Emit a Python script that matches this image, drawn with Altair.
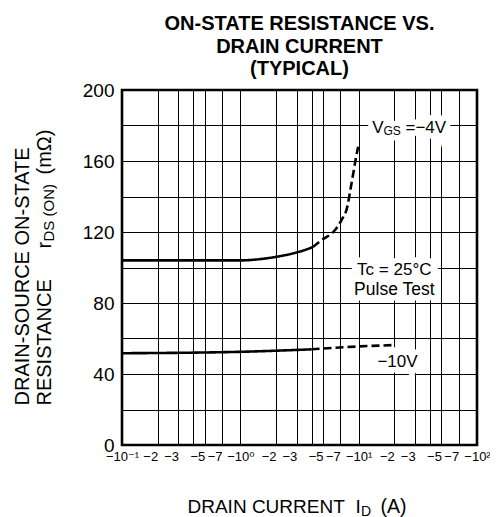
import altair as alt
import pandas as pd

FONT = "Liberation Sans, Arial, DejaVu Sans"

# ---- data ----
id_vgs4_solid = [0.1, 1.0, 1.5, 2.0, 3.2, 4.1]
r_vgs4_solid = [104, 104, 104.8, 106, 109, 111.5]
id_vgs4_dash = [4.1, 5.0, 6.1, 7.2, 8.0, 8.5, 9.0, 9.5, 9.9]
r_vgs4_dash = [111.5, 116, 120, 127, 134, 143.5, 153, 162, 168]
id_vgs10_solid = [0.1, 1.0, 4.0]
r_vgs10_solid = [51.7, 52.5, 53.9]
id_vgs10_dash = [4.0, 8.0, 20.0]
r_vgs10_dash = [53.9, 55.2, 56.3]

x_grid = [0.1, 0.2, 0.3, 0.4, 0.5, 0.7, 1, 2, 3, 4, 5, 7, 10, 20, 30, 40, 50, 70, 100]
x_labels = ["−10⁻¹", "−2", "−3", "", "−5", "−7", "−10⁰", "−2", "−3", "", "−5", "−7",
            "−10¹", "−2", "−3", "", "−5", "−7", "−10²"]
x_decades = [0.1, 1, 10, 100]
y_grid = list(range(0, 201, 20))

rows = []
def add(xs, ys, seg, style):
    for a, b in zip(xs, ys):
        rows.append({"id": a, "r": b, "seg": seg, "style": style})
add(id_vgs4_solid, r_vgs4_solid, "v4s", "solid")
add(id_vgs4_dash, r_vgs4_dash, "v4d", "dashed")
add(id_vgs10_solid, r_vgs10_solid, "v10s", "solid")
add(id_vgs10_dash, r_vgs10_dash, "v10d", "dashed")
df = pd.DataFrame(rows)

# label expression
parts = []
for v, l in zip(x_grid, x_labels):
    parts.append(f"abs(datum.value - {v}) < {v}*1e-6 ? '{l}'")
label_expr = " : ".join(parts) + " : ''"
decade_test = " || ".join(f"abs(datum.value - {v}) < {v}*1e-6" for v in x_decades)

xs = alt.Scale(type="log", domain=[0.1, 100])
ys = alt.Scale(domain=[0, 200], nice=False)

def blank_axis(title, tx, ty, size, orient, angle=0):
    return alt.Axis(title=title, orient=orient, labels=False, ticks=False, domain=False,
                    grid=False, titleX=tx, titleY=ty, titleFontSize=size, titleFont=FONT,
                    titleFontWeight="normal", titleAlign="left", titleBaseline="alphabetic",
                    titleAngle=angle, titleColor="black")

x_main = alt.Axis(values=x_grid, labelExpr=label_expr, orient="bottom", grid=True,
                  gridColor="black", gridWidth=1, ticks=False, domain=False, labelFont=FONT,
                  labelFontSize=13, labelColor="black", labelPadding=5, labelOverlap=False,
                  labelAlign={"condition": {"test": decade_test, "value": "center"},
                              "value": "right"},
                  labelFlush=False, labelBound=False, title="DRAIN CURRENT",
                  titleFont=FONT, titleFontSize=19, titleFontWeight="normal",
                  titleColor="black", titleX=65, titleY=67, titleAlign="left",
                  titleBaseline="alphabetic")
y_main = alt.Axis(values=y_grid, labelExpr="datum.value % 40 == 0 ? datum.value : ''",
                  orient="left", grid=True, gridColor="black", gridWidth=1, ticks=False,
                  domain=False, labelFont=FONT, labelFontSize=19, labelColor="black",
                  labelPadding=8, title=["DRAIN-SOURCE ON-STATE", "RESISTANCE"],
                  titleFont=FONT, titleFontSize=20, titleFontWeight="normal",
                  titleColor="black", titleX=-94, titleY=315, titleAlign="left",
                  titleBaseline="alphabetic", titleAngle=270, titleLineHeight=22)

# pieces of the axis titles (text, x, y, size) attached to extra axes
x_pieces = [("I", 233, 67, 19), ("D", 238.5, 70, 14), ("(A)", 258, 67, 19.5)]
y_pieces = [("r", -72, 158, 20), ("DS (ON)", -69, 151, 15), ("(mΩ)", -72, 84, 20)]

lines = alt.Chart(df).mark_line(strokeWidth=2.6, color="black", interpolate="monotone").encode(
    x=alt.X("id:Q", scale=xs, axis=x_main),
    y=alt.Y("r:Q", scale=ys, axis=y_main),
    detail="seg:N",
    strokeDash=alt.StrokeDash("style:N", scale=alt.Scale(domain=["solid", "dashed"],
                                                         range=[[1, 0], [8, 4]]), legend=None),
)

# annotation texts
ann_x = [13, 13, 13, 20, 20, 21.3]
ann_y = [178.6, 178.6, 178.6, 98.6, 87.3, 46.9]
ann_t = ["V", "GS", "=−4V", "Tc = 25°C", "Pulse Test", "−10V"]
ann_size = [17, 12, 17, 17, 17.5, 17]
ann_dx = [0, 11.3, 33.3, 0, 0, 0]
ann_dy = [0, 3, 0, 0, 0, 0]
ann_align = ["left", "left", "left", "center", "center", "center"]

layers_halo = []
layers_text = []
for i in range(len(ann_t)):
    d = pd.DataFrame({"id": [ann_x[i]], "r": [ann_y[i]], "t": [ann_t[i]]})
    base = alt.Chart(d)
    common = dict(font=FONT, fontSize=ann_size[i], dx=ann_dx[i], dy=ann_dy[i],
                  align=ann_align[i], baseline="middle")
    if i < 3:
        t, tx, ty, sz = x_pieces[i]
        xa = blank_axis(t, tx, ty, sz, "bottom")
        t, tx, ty, sz = y_pieces[i]
        ya = blank_axis(t, tx, ty, sz, "left", angle=270)
    else:
        xa = None
        ya = None
    halo = base.mark_text(color="white", stroke="white", strokeWidth=11, **common).encode(
        x=alt.X("id:Q", scale=xs, axis=None), y=alt.Y("r:Q", scale=ys, axis=None), text="t:N")
    txt = base.mark_text(color="black", **common).encode(
        x=alt.X("id:Q", scale=xs, axis=xa), y=alt.Y("r:Q", scale=ys, axis=ya), text="t:N")
    layers_halo.append(halo)
    layers_text.append(txt)

chart = alt.layer(*layers_halo, lines, *layers_text).resolve_axis(
    x="independent", y="independent"
).properties(
    width=355, height=355,
    autosize=alt.AutoSizeParams(type="none"),
    padding={"left": 114, "top": 82, "right": 13, "bottom": 72},
    title=alt.TitleParams(text=["ON-STATE RESISTANCE VS.", "DRAIN CURRENT", "(TYPICAL)"],
                          font=FONT, fontSize=20, fontWeight="bold", anchor="middle",
                          lineHeight=22.5, offset=2, color="black"),
).configure_view(stroke="black", strokeWidth=2.6)

chart.save("out.html", embed_options={"renderer": "svg", "actions": False})
